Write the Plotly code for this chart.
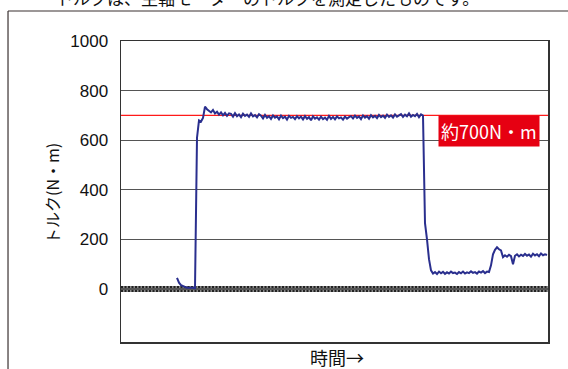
import plotly.graph_objects as go

# Torque samples (N·m), uniform sampling (sample index = time)
torque = [
    45, 25, 15, 10, 8, 5, 6, 4, 5, 3,
    610, 680, 675, 690, 735, 725, 720, 712, 722, 708, 715, 703, 712, 700, 710, 698, 708,
    706, 695, 709, 697, 704, 693, 707, 698, 703, 694, 708, 696, 701, 692, 705,
    699, 688, 702, 690, 697, 686, 700, 691, 696, 684, 699, 689, 695, 683, 698, 690, 694, 685, 697, 688,
    695, 684, 697, 686, 693, 680, 696, 687, 692, 683, 695, 685, 691, 682, 698, 686, 694, 684, 696, 688,
    692, 683, 695, 687, 693,
    697, 688, 699, 690, 696, 685, 700, 691, 697, 687, 701, 692, 698, 689, 702, 693, 699, 690, 703, 694,
    700, 691, 704, 695, 701,
    705, 694, 703, 696, 708, 695, 702, 697, 706, 693, 704, 699,
    265, 200, 120, 75, 62,
    68, 60, 70, 63, 69, 61, 67, 62, 70, 64, 66, 60, 68, 63, 70, 62, 67, 64, 71, 65,
    68, 62, 70, 66, 72, 64, 70, 68,
    95, 140, 158, 168, 160, 155, 128,
    136, 130, 138, 132, 100, 134, 140, 131, 138, 133, 141, 134, 139, 130, 142, 135, 140, 132, 143, 136,
    140, 137,
]
time = list(range(len(torque)))

y_ticks = [0, 200, 400, 600, 800, 1000]
ref_value = 700
ref_label = "約700N・m"
caption = "トルクは、主軸モーターのトルクを測定したものです。"
x_title = "時間→"
y_title = "トルク(N・m)"

FONT = "Liberation Sans, Arial, Noto Sans CJK JP, sans-serif"
JFONT = "Noto Sans CJK JP, Liberation Sans, sans-serif"

fig = go.Figure()
fig.add_trace(go.Scatter(
    x=time, y=torque, mode="lines",
    line=dict(color="#2a2f8e", width=2.0),
    hoverinfo="skip", showlegend=False,
))

shapes = [
    # zero band (grey with dark dashes)
    dict(type="line", xref="paper", yref="y", x0=0, x1=1, y0=0, y1=0,
         line=dict(color="#8a8a8a", width=6), layer="below"),
    dict(type="line", xref="paper", yref="y", x0=0, x1=1, y0=0, y1=0,
         line=dict(color="#222222", width=6, dash="2px,1.5px"), layer="below"),
    # reference line
    dict(type="line", xref="paper", yref="y", x0=0, x1=1, y0=ref_value, y1=ref_value,
         line=dict(color="#ff1a1a", width=1.4), layer="below"),
    # outer frame (left and top)
    dict(type="line", xref="paper", yref="paper", x0=-0.2646, x1=-0.2646, y0=-0.2, y1=1.0997,
         line=dict(color="#3a3030", width=1.2)),
    dict(type="line", xref="paper", yref="paper", x0=-0.2646, x1=1.2, y0=1.0997, y1=1.0997,
         line=dict(color="#3a3030", width=1.2)),
]

annotations = [
    dict(text=ref_label, x=156, y=637, xref="x", yref="y", showarrow=False,
         font=dict(family=JFONT, size=18, color="white"), bgcolor="#e60012",
         borderpad=2),
    dict(text=caption, x=0.342, y=1.1429, xref="paper", yref="paper", showarrow=False,
         yanchor="middle", font=dict(family=JFONT, size=17, color="#111")),
    dict(text=y_title, x=-0.1944, y=0.495, xref="paper", yref="paper", showarrow=False,
         textangle=-90, font=dict(family=JFONT, size=16, color="#111")),
    dict(text=x_title, x=0.507, y=-0.05, xref="paper", yref="paper", showarrow=False,
         yanchor="middle", font=dict(family=JFONT, size=18, color="#111")),
]

fig.update_layout(
    width=568, height=369,
    margin=dict(l=121, r=20, t=41, b=27, autoexpand=False),
    paper_bgcolor="white", plot_bgcolor="white",
    shapes=shapes, annotations=annotations,
    font=dict(family=FONT, color="#111"),
    xaxis=dict(range=[-28, 185.5], showticklabels=False, showgrid=False, zeroline=False,
               showline=True, mirror=True, linecolor="#333", linewidth=1.5, ticks=""),
    yaxis=dict(range=[-214, 1000], tickvals=y_ticks, showgrid=True, gridcolor="#555",
               gridwidth=1.3, zeroline=False, showline=True, mirror=True,
               linecolor="#333", linewidth=1.5, ticks="", ticklabelstandoff=8,
               tickfont=dict(family=FONT, size=17, color="#111")),
)

# remove the page's default body margin so the figure fills the window exactly
fig.write_html(
    "out.html",
    config={"displayModeBar": False, "staticPlot": True},
    post_script="document.body.style.margin='0';document.body.style.overflow='hidden';",
)
